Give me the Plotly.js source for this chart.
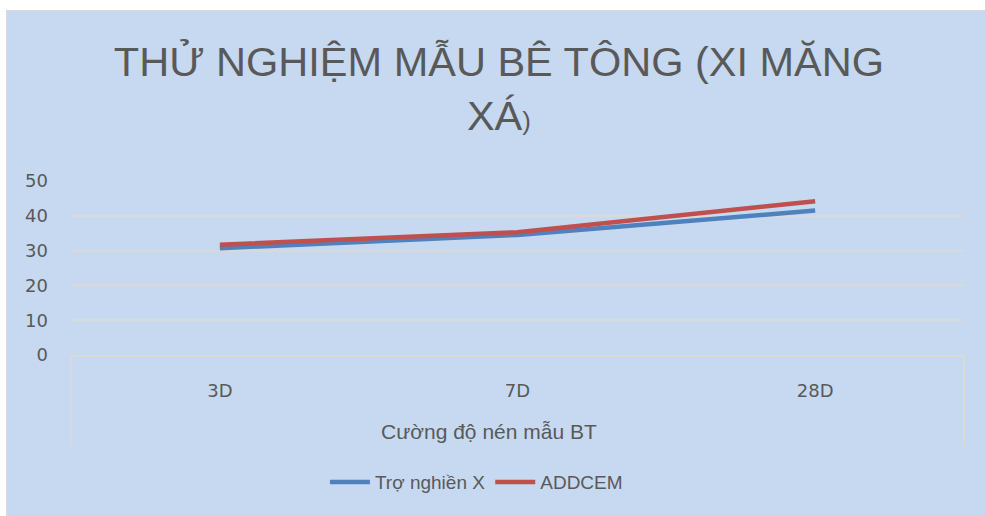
<!DOCTYPE html>
<html>
<head>
<meta charset="utf-8">
<script src="https://cdn.plot.ly/plotly-3.0.1.min.js"></script>
<style>
  html, body { margin: 0; padding: 0; background: #ffffff; width: 985px; height: 516px; overflow: hidden; }
  #frame { position: absolute; left: 6px; top: 10px; width: 979px; height: 506px; border-left: 1px solid #d9d9d9; border-top: 1px solid #d9d9d9; background: #c6d9f0; }
  #chart { position: absolute; left: 0; top: 0; width: 978px; height: 505px; }
</style>
</head>
<body>
<div id="frame"><div id="chart"></div></div>
<script>
const categories = ["3D", "7D", "28D"];
const seriesNames = ["Trợ nghiền X", "ADDCEM"];
const troNghienX = [30.7, 34.5, 41.5];
const addcem = [31.7, 35.3, 44.2];
const yTicks = [0, 10, 20, 30, 40, 50];

const titleText = "THỬ NGHIỆM MẪU BÊ TÔNG (XI MĂNG<br>XÁ<span style=\"font-size:26px\">)</span>";
const xTitle = "Cường độ nén mẫu BT";

const traces = [
  { x: categories, y: troNghienX, name: seriesNames[0], type: "scatter", mode: "lines",
    line: { color: "#4f81bd", width: 4.5, shape: "linear" } },
  { x: categories, y: addcem, name: seriesNames[1], type: "scatter", mode: "lines",
    line: { color: "#c0504d", width: 4.5, shape: "linear" } }
];

const gridC = "#d9d9d9";
const textC = "#595959";

const layout = {
  width: 978, height: 505,
  paper_bgcolor: "#c6d9f0", plot_bgcolor: "#c6d9f0",
  margin: { l: 64, r: 21, t: 170, b: 161 },
  title: {
    text: titleText,
    font: { family: "Liberation Sans, Arial, sans-serif", size: 41.5, color: textC },
    x: 0.503, xanchor: "center", xref: "container",
    y: 0.872, yanchor: "top", yref: "container"
  },
  xaxis: {
    type: "category",
    showgrid: false, zeroline: false,
    showline: true, linecolor: gridC, linewidth: 2,
    ticks: "", ticklabelstandoff: 18,
    tickfont: { family: "DejaVu Sans, sans-serif", size: 18, color: textC },
    range: [-0.5, 2.5], fixedrange: true
  },
  yaxis: {
    range: [0, 50], tickvals: yTicks, ticktext: yTicks.map(String),
    showgrid: true, gridcolor: gridC, gridwidth: 2,
    zeroline: false, showline: false, ticks: "",
    ticklabelstandoff: 22,
    tickfont: { family: "DejaVu Sans, sans-serif", size: 18, color: textC },
    fixedrange: true
  },
  annotations: [
    { text: xTitle, xref: "paper", yref: "y domain", x: 0.468, y: -0.44,
      xanchor: "center", yanchor: "middle", showarrow: false,
      font: { family: "Liberation Sans, Arial, sans-serif", size: 21, color: textC } }
  ],
  showlegend: true,
  legend: {
    orientation: "h", xref: "container", yref: "container",
    x: 0.48, xanchor: "center", y: 0.067, yanchor: "middle",
    font: { family: "Liberation Sans, Arial, sans-serif", size: 19, color: textC },
    bgcolor: "rgba(0,0,0,0)", itemwidth: 40, traceorder: "normal"
  },
  shapes: [
    { type: "line", xref: "x domain", yref: "y domain", x0: 0, x1: 0, y0: 0, y1: -0.524,
      line: { color: gridC, width: 2 } },
    { type: "line", xref: "x domain", yref: "y domain", x0: 1, x1: 1, y0: 0, y1: -0.524,
      line: { color: gridC, width: 2 } }
  ]
};

Plotly.newPlot("chart", traces, layout, { staticPlot: true, displayModeBar: false });
</script>
</body>
</html>
